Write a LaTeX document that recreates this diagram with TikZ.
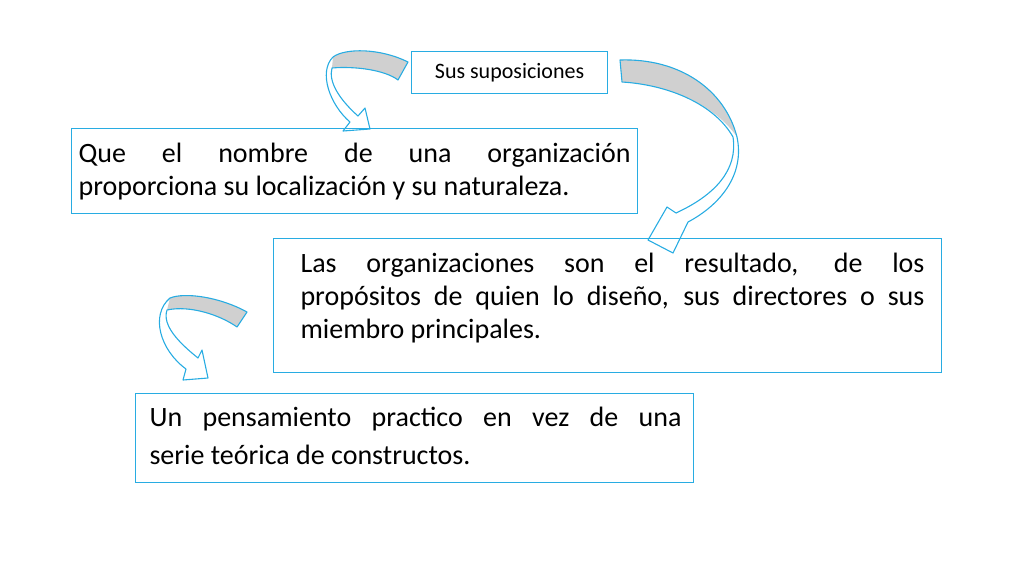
\documentclass[tikz,border=0pt]{standalone}
\usepackage{fontspec}
\setmainfont{Carlito}
\usetikzlibrary{positioning}
\definecolor{boxcyan}{RGB}{40,172,226}
\definecolor{bandgray}{RGB}{208,208,208}
\tikzset{
  textbox/.style={draw=boxcyan,line width=1.1pt,inner sep=0pt,anchor=north west},
  curvebody/.style={draw=boxcyan,line width=1.1pt,line join=round},
  curveband/.style={fill=bandgray},
  bodytext/.style={align=justify,execute at begin node={\hyphenpenalty=10000}}
}
\begin{document}
\begin{tikzpicture}[x=1pt,y=-1pt]
  \useasboundingbox (0,0) rectangle (1024,576);

  % boxes
  \node [textbox,minimum width=196pt,minimum height=42pt] (sus) at (411,51) {};
  \node [font=\fontsize{22}{26}\selectfont] (sustext) at (sus.center) {Sus suposiciones};
  \node [textbox,minimum width=566pt,minimum height=85pt] (nombre) at (71,128) {};
  \node [bodytext,font=\fontsize{28}{33}\selectfont,text width=552pt] (nombretext) at (nombre.center) {Que el nombre de una organización\linebreak proporciona su localización y su naturaleza.};
  \node [textbox,minimum width=668pt,minimum height=134pt] (proposito) at (273,238) {};
  \node [bodytext,font=\fontsize{28}{33}\selectfont,text width=624pt,anchor=north west] (propositotext) at (297,250) {Las organizaciones son el resultado, de los\linebreak propósitos de quien lo diseño, sus directores o sus\linebreak miembro principales.};
  \node [textbox,minimum width=558pt,minimum height=89pt] (practico) at (135,393) {};
  \node [bodytext,font=\fontsize{28}{38}\selectfont,text width=532pt,anchor=north west] (practicotext) at (146,404) {Un pensamiento practico en vez de una\linebreak serie teórica de constructos.};

  % curved arrow, left of sus
  \fill [curveband] (408,62) .. controls (380,48) and (345,48) .. (333,57)
    -- (332,68) .. controls (355,66) and (385,70) .. (398,80) -- cycle;
  \draw [curvebody] (408,62) .. controls (380,48) and (345,48) .. (333,57)
    .. controls (318,72) and (330,105) .. (350,122) -- (343,131) -- (370,129) -- (365,108) -- (358,116)
    .. controls (340,100) and (328,82) .. (332,68)
    .. controls (355,66) and (385,70) .. (398,80) -- cycle;

  % curved arrow, right of sus
  \fill [curveband] (620,60) .. controls (680,58) and (725,90) .. (737,137)
    .. controls (715,105) and (670,85) .. (622,82) -- cycle;
  \draw [curvebody] (620,60) .. controls (680,58) and (725,90) .. (737,137)
    .. controls (745,175) and (720,205) .. (688,222) -- (673,253) -- (648,240) -- (667,207) -- (676,213)
    .. controls (715,195) and (738,170) .. (733,137)
    .. controls (715,105) and (670,85) .. (622,82) -- cycle;

  % curved arrow, left of practico
  \fill [curveband] (247,312) .. controls (220,297) and (185,292) .. (170,298)
    -- (167,310) .. controls (190,305) and (220,315) .. (237,327) -- cycle;
  \draw [curvebody] (247,312) .. controls (220,297) and (185,292) .. (170,298)
    .. controls (150,315) and (160,350) .. (186,369) -- (183,380) -- (208,378) -- (202,350) -- (198,358)
    .. controls (178,342) and (162,325) .. (167,310)
    .. controls (190,305) and (220,315) .. (237,327) -- cycle;
\end{tikzpicture}
\end{document}
